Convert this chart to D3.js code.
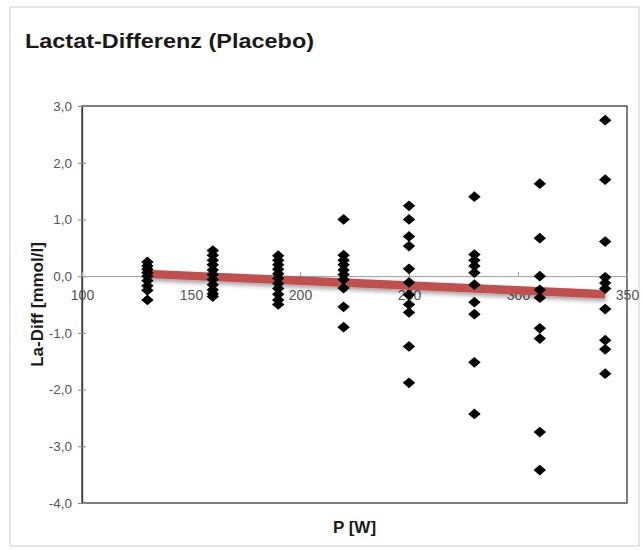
<!DOCTYPE html>
<html>
<head>
<meta charset="utf-8">
<script src="https://cdn.jsdelivr.net/npm/d3@7"></script>
<style>
  html, body { margin: 0; padding: 0; background: #fff; }
  svg { display: block; font-family: "Liberation Sans", Arial, sans-serif; }
</style>
</head>
<body>
<svg id="chart" width="642" height="550"></svg>
<script>
// ---- Data ----
const powerLevels = [130, 160, 190, 220, 250, 280, 310, 340];
const diff130 = [0.25, 0.18, 0.12, 0.06, 0.0, -0.08, -0.17, -0.25, -0.42];
const diff160 = [0.45, 0.37, 0.28, 0.20, 0.11, 0.03, -0.06, -0.15, -0.24, -0.31, -0.36];
const diff190 = [0.36, 0.28, 0.20, 0.12, 0.04, -0.04, -0.13, -0.22, -0.32, -0.42, -0.50];
const diff220 = [1.00, 0.37, 0.28, 0.20, 0.11, 0.03, -0.06, -0.21, -0.54, -0.90];
const diff250 = [1.24, 1.00, 0.70, 0.53, 0.13, -0.11, -0.33, -0.50, -0.64, -1.24, -1.88];
const diff280 = [1.40, 0.38, 0.28, 0.18, 0.06, -0.15, -0.46, -0.67, -1.52, -2.43];
const diff310 = [1.63, 0.67, 0.0, -0.24, -0.38, -0.92, -1.10, -2.75, -3.42];
const diff340 = [2.75, 1.70, 0.61, -0.02, -0.12, -0.22, -0.58, -1.13, -1.29, -1.72];
const seriesValues = [diff130, diff160, diff190, diff220, diff250, diff280, diff310, diff340];

const trendX = [130, 340];
const trendY = [0.04, -0.32];

const xTicks = [100, 150, 200, 250, 300, 350];
const yTicks = [-4, -3, -2, -1, 0, 1, 2, 3];

const titleText = "Lactat-Differenz (Placebo)";
const xLabel = "P [W]";
const yLabel = "La-Diff [mmol/l]";

// ---- Build points ----
const points = [];
powerLevels.forEach((p, i) => seriesValues[i].forEach(v => points.push({ x: p, y: v })));

// ---- Layout ----
const svg = d3.select("#chart");
const plotLeft = 82, plotRight = 627, plotTop = 106, plotBottom = 503;

const x = d3.scaleLinear().domain([100, 350]).range([plotLeft, plotRight]);
const y = d3.scaleLinear().domain([-4, 3]).range([plotBottom, plotTop]);

const locale = d3.formatLocale({ decimal: ",", thousands: ".", grouping: [3], currency: ["", "€"], minus: "-" });
const fmt = locale.format(".1f");

// drop shadow filter
const defs = svg.append("defs");
const f = defs.append("filter").attr("id", "shadow").attr("x", "-10%").attr("y", "-200%").attr("width", "120%").attr("height", "500%");
f.append("feDropShadow").attr("dx", 1).attr("dy", 3).attr("stdDeviation", 2).attr("flood-color", "#000").attr("flood-opacity", 0.35);

// outer frame
svg.append("rect").attr("x", 10).attr("y", 7).attr("width", 629).attr("height", 539)
  .attr("fill", "#fff").attr("stroke", "#d4d4d4").attr("stroke-width", 1.2);

// title
svg.append("text").attr("x", 25).attr("y", 48)
  .attr("font-size", 21).attr("font-weight", "bold").attr("fill", "#1a1a1a")
  .attr("textLength", 289).attr("lengthAdjust", "spacingAndGlyphs")
  .text(titleText);

// plot area border
svg.append("rect").attr("x", plotLeft).attr("y", plotTop).attr("width", plotRight - plotLeft).attr("height", plotBottom - plotTop)
  .attr("fill", "none").attr("stroke", "#3a3a3a").attr("stroke-width", 1.3);

// y axis
const yAxis = d3.axisLeft(y).tickValues(yTicks).tickFormat(fmt).tickSizeInner(4).tickSizeOuter(0);
const gy = svg.append("g").attr("transform", `translate(${plotLeft},0)`).call(yAxis);
gy.select(".domain").attr("stroke", "#3a3a3a").attr("stroke-width", 1.3);
gy.selectAll(".tick line").attr("stroke", "#888").attr("x2", 4).attr("x1", -4);
gy.selectAll(".tick text").attr("x", -10).attr("font-size", 13.5).attr("fill", "#555")
  .attr("font-family", "Liberation Sans, Arial, sans-serif");

// x axis at y = 0
const xAxis = d3.axisBottom(x).tickValues(xTicks).tickFormat(d3.format("d")).tickSizeInner(4).tickSizeOuter(0);
const gx = svg.append("g").attr("transform", `translate(0,${y(0)})`).call(xAxis);
gx.select(".domain").attr("stroke", "#9a9a9a").attr("stroke-width", 1);
gx.selectAll(".tick line").attr("stroke", "#9a9a9a").attr("y1", -4).attr("y2", 0);
gx.selectAll(".tick text").attr("y", 14).attr("font-size", 14).attr("fill", "#555")
  .attr("font-family", "Liberation Sans, Arial, sans-serif");

// trend line
const line = d3.line().x(d => x(d[0])).y(d => y(d[1]));
svg.append("path").datum(trendX.map((v, i) => [v, trendY[i]]))
  .attr("d", line).attr("fill", "none").attr("stroke", "#c0504d").attr("stroke-width", 8.5)
  .attr("filter", "url(#shadow)");

// markers
const diamond = d3.symbol().type(d3.symbolSquare).size(64);
svg.append("g").selectAll("path").data(points).join("path")
  .attr("d", diamond)
  .attr("transform", d => `translate(${x(d.x)},${y(d.y)}) scale(1.1,0.95) rotate(45)`)
  .attr("fill", "#000");

// axis labels
svg.append("text").attr("x", (plotLeft + plotRight) / 2).attr("y", 533)
  .attr("text-anchor", "middle").attr("font-size", 17).attr("font-weight", "bold").attr("fill", "#1a1a1a")
  .text(xLabel);

svg.append("text").attr("transform", `translate(43,${(plotTop + plotBottom) / 2}) rotate(-90)`)
  .attr("text-anchor", "middle").attr("font-size", 17).attr("font-weight", "bold").attr("fill", "#1a1a1a")
  .text(yLabel);
</script>
</body>
</html>
